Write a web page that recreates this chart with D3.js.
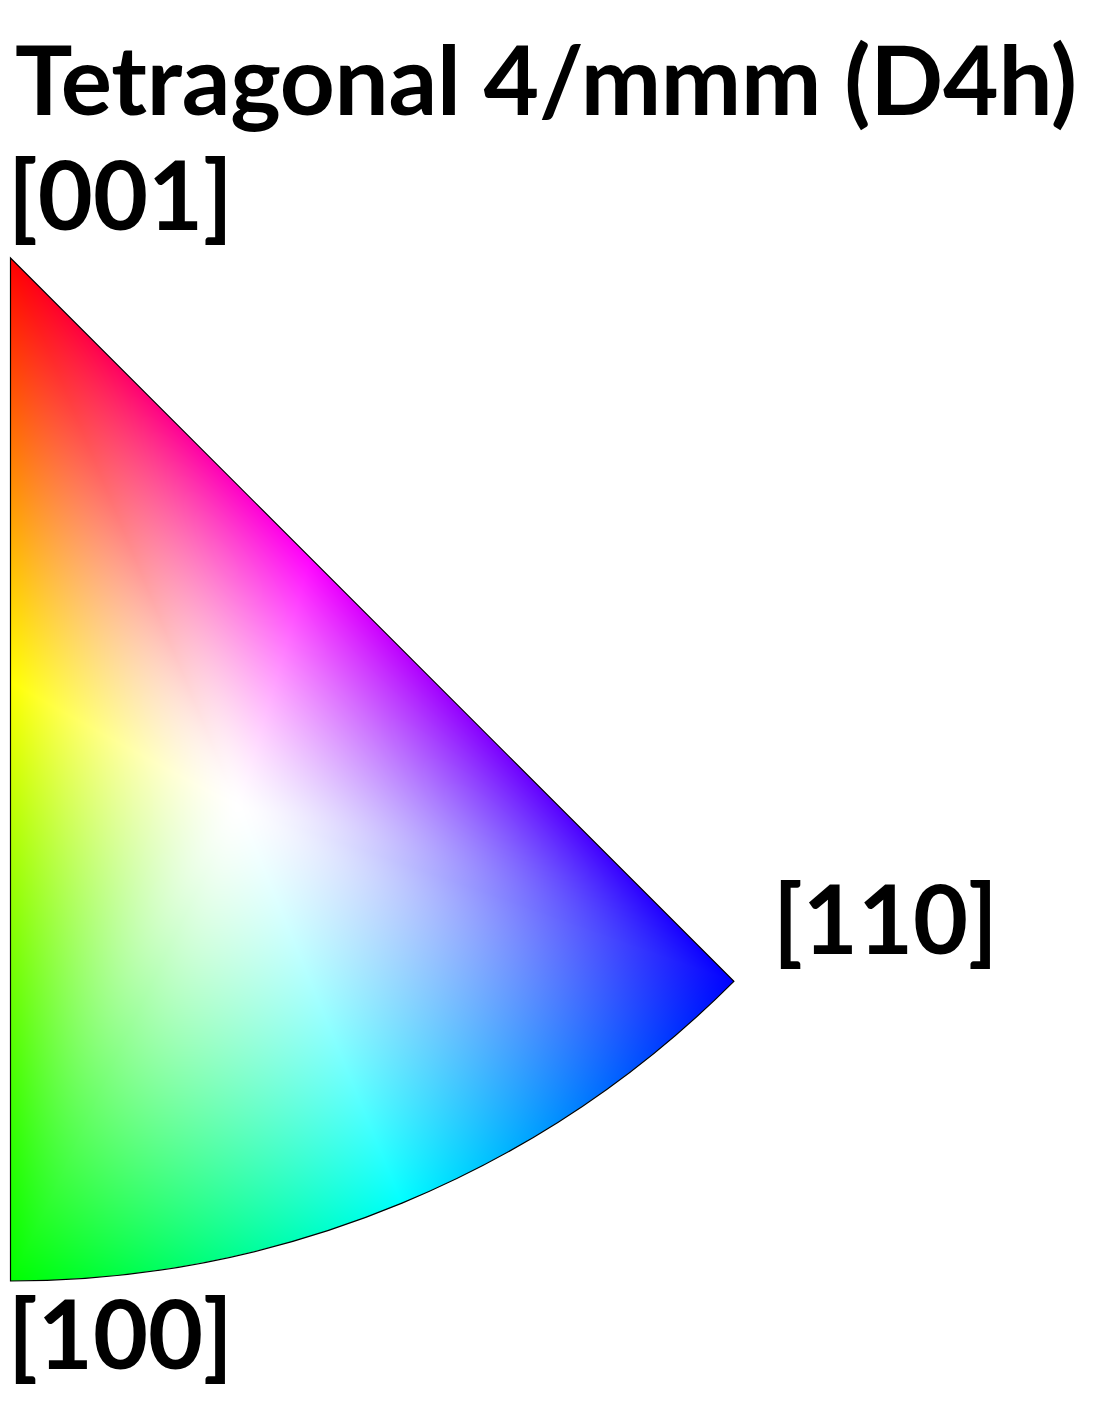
<!DOCTYPE html>
<html>
<head>
<meta charset="utf-8">
<script src="https://cdn.jsdelivr.net/npm/d3@7"></script>
<style>
  html, body { margin: 0; padding: 0; background: #fff; }
  svg { display: block; }
  text { font-family: Lato, "Open Sans", sans-serif; font-weight: 700; fill: #000; }
</style>
</head>
<body>
<svg id="chart" width="1096" height="1426"></svg>
<script>
// ---------- data ----------
const titleText = "Tetragonal 4/mmm (D4h)";
const poleLabels = ["[001]", "[100]", "[110]"];
const polePolar = [0, 90, 90];        // polar angle θ (deg) of each pole
const poleAzimuth = [0, 0, 45];       // azimuth φ (deg) from [100] toward [110]
// hue along the three edges of the fundamental sector
const leftEdgePolar = [0, 45, 90];    // [001] -> [101] -> [100]
const leftEdgeHue = [0, 60, 120];     // red -> yellow -> green
const arcEdgeAzimuth = [0, 22.5, 45]; // [100] -> [210] -> [110]
const arcEdgeHue = [120, 180, 240];   // green -> cyan -> blue
const diagEdgePolar = [90, 45, 0];    // [110] -> [111] -> [001]
const diagEdgeHue = [240, 300, 360];  // blue -> magenta -> red
const whitePolar = 60.3;              // white centre of the key
const whiteAzimuth = 22.5;
const saturationGamma = 1.4;
const smoothingDeg = 10;
const hueSmoothingDeg = 8;
const smoothingFade = 2;

// ---------- layout ----------
const svg = d3.select("#chart");
const cx = 10.5, cy = 258, R = 1023;
const rho = d3.scaleLinear().domain([0, 1]).range([0, R]);
const toRad = d3.scaleLinear().domain([0, 180]).range([0, Math.PI]);
const toDeg = toRad.invert;
function project(theta, phi) {
  const r = rho(Math.tan(toRad(theta) / 2));
  return [cx + r * Math.sin(toRad(phi)), cy + r * Math.cos(toRad(phi))];
}
const poles = poleLabels.map((l, i) => project(polePolar[i], poleAzimuth[i]));
const Wp = project(whitePolar, whiteAzimuth);

const leftHue = d3.scaleLinear().domain(leftEdgePolar).range(leftEdgeHue).clamp(true);
const arcHue = d3.scaleLinear().domain(arcEdgeAzimuth).range(arcEdgeHue).clamp(true);
const diagHue = d3.scaleLinear().domain(diagEdgePolar).range(diagEdgeHue).clamp(true);

// sector outline
const p100 = poles[1], p110 = poles[2];
const path = d3.path();
path.moveTo(cx, cy);
path.lineTo(p100[0], p100[1]);
path.arc(cx, cy, R, Math.atan2(p100[1] - cy, p100[0] - cx), Math.atan2(p110[1] - cy, p110[0] - cx), true);
path.closePath();

// exit along ray W + t d
function exitInfo(dx, dy) {
  let best = Infinity, edge = -1;
  if (dx < 0) { const t = (cx - Wp[0]) / dx; if (t > 0 && t < best) { best = t; edge = 0; } }
  const den = dx - dy;
  if (Math.abs(den) > 1e-12) {
    const t = ((cx - cy) - (Wp[0] - Wp[1])) / den;
    if (t > 0 && t < best) { best = t; edge = 1; }
  }
  const ox = Wp[0] - cx, oy = Wp[1] - cy;
  const A = dx * dx + dy * dy, B = 2 * (ox * dx + oy * dy), C = ox * ox + oy * oy - R * R;
  const disc = B * B - 4 * A * C;
  if (disc >= 0 && A > 0) {
    const t = (-B + Math.sqrt(disc)) / (2 * A);
    if (t > 0 && t < best) { best = t; edge = 2; }
  }
  return [best, edge];
}
function hueAt(ex, ey, edge) {
  if (edge === 0) return leftHue(toDeg(2 * Math.atan(rho.invert(ey - cy))));
  if (edge === 1) return diagHue(toDeg(2 * Math.atan(rho.invert(Math.hypot(ex - cx, ey - cy)))));
  return arcHue(toDeg(Math.atan2(ex - cx, ey - cy)));
}

// angular tables (distance to boundary and unwrapped hue), smoothed in angle
const NA = 3600;
const cyanPt = project(90, 22.5);
const aStart = Math.atan2(cyanPt[1] - Wp[1], cyanPt[0] - Wp[0]);
const rawD = new Float64Array(NA), rawH = new Float64Array(NA);
for (let k = 0; k < NA; k++) {
  const a = aStart + 2 * Math.PI * k / NA;
  const dx = Math.cos(a), dy = Math.sin(a);
  const [t, edge] = exitInfo(dx, dy);
  rawD[k] = t;
  let h = hueAt(Wp[0] + t * dx, Wp[1] + t * dy, edge);
  if (k > 0) { while (h - rawH[k - 1] > 180) h -= 360; while (h - rawH[k - 1] < -180) h += 360; }
  rawH[k] = h;
}
let wind = rawH[0] - rawH[NA - 1];
wind = Math.round((rawH[NA - 1] + ((wind % 360) + 540) % 360 - 180 - rawH[0]) / 360) * 360;
function sampleH(arr, j) { const m = ((j % NA) + NA) % NA; return arr[m] + Math.floor(j / NA) * wind; }
function sampleD(arr, j) { return arr[((j % NA) + NA) % NA]; }
function blur(sampler, arr, sd) {
  const sig = sd * NA / 360, half = Math.ceil(3 * sig), out = new Float64Array(NA);
  for (let k = 0; k < NA; k++) {
    let s = 0, w = 0;
    for (let m = -half; m <= half; m++) {
      const g = Math.exp(-0.5 * (m / sig) * (m / sig));
      s += g * sampler(arr, k + m); w += g;
    }
    out[k] = s / w;
  }
  return out;
}
const smD = blur(sampleD, rawD, smoothingDeg);
const smH = blur(sampleH, rawH, hueSmoothingDeg);
function lookup(arr, sampler, a) {
  let u = ((a - aStart) / (2 * Math.PI)) * NA; u = ((u % NA) + NA) % NA;
  const k = Math.floor(u), f = u - k;
  return sampler(arr, k) * (1 - f) + sampler(arr, k + 1) * f;
}

// raster colour key
const x0 = 0, y0 = 250, cw = 745, ch = 1040;
const canvas = document.createElement("canvas");
canvas.width = cw; canvas.height = ch;
const ctx = canvas.getContext("2d");
const img = ctx.createImageData(cw, ch);
for (let j = 0; j < ch; j++) {
  for (let i = 0; i < cw; i++) {
    const px = x0 + i + 0.5, py = y0 + j + 0.5;
    const dx = px - Wp[0], dy = py - Wp[1];
    const len = Math.hypot(dx, dy);
    let f = 0, h = 0;
    if (len > 1e-6) {
      const [t, edge] = exitInfo(dx, dy);
      const a = Math.atan2(dy, dx);
      const dTrue = t * len;
      const q = Math.pow(Math.min(1, len / dTrue), smoothingFade);
      const hs = lookup(smH, sampleH, a);
      let ht = hueAt(Wp[0] + t * dx, Wp[1] + t * dy, edge);
      while (ht - hs > 180) ht -= 360;
      while (ht - hs < -180) ht += 360;
      h = hs + (ht - hs) * q;
      const ds = lookup(smD, sampleD, a);
      const dEff = ds + (dTrue - ds) * q;
      f = Math.pow(Math.min(1, len / dEff), saturationGamma);
    }
    const c = d3.rgb(d3.hsl(((h % 360) + 360) % 360, 1, 0.5));
    const k = (j * cw + i) * 4;
    img.data[k] = 255 * (1 - f) + c.r * f;
    img.data[k + 1] = 255 * (1 - f) + c.g * f;
    img.data[k + 2] = 255 * (1 - f) + c.b * f;
    img.data[k + 3] = 255;
  }
}
ctx.putImageData(img, 0, 0);

const defs = svg.append("defs");
defs.append("clipPath").attr("id", "sector").append("path").attr("d", path.toString());
svg.append("image")
  .attr("x", x0).attr("y", y0).attr("width", cw).attr("height", ch)
  .attr("href", canvas.toDataURL())
  .attr("clip-path", "url(#sector)");
svg.append("path").attr("d", path.toString())
  .attr("fill", "none").attr("stroke", "#000").attr("stroke-width", 1.2);

// text
const title = svg.append("text").attr("x", 15).attr("y", 115).attr("font-size", 96).text(titleText);
const tw = title.node().getComputedTextLength();
if (tw > 1062) title.attr("textLength", 1062).attr("lengthAdjust", "spacing");
const labelPos = [[8, 230], [8, 1369], [773, 954]];
svg.selectAll("text.pole").data(poleLabels).join("text")
  .attr("class", "pole")
  .attr("x", (d, i) => labelPos[i][0]).attr("y", (d, i) => labelPos[i][1])
  .attr("font-size", 95).text(d => d);
</script>
</body>
</html>
